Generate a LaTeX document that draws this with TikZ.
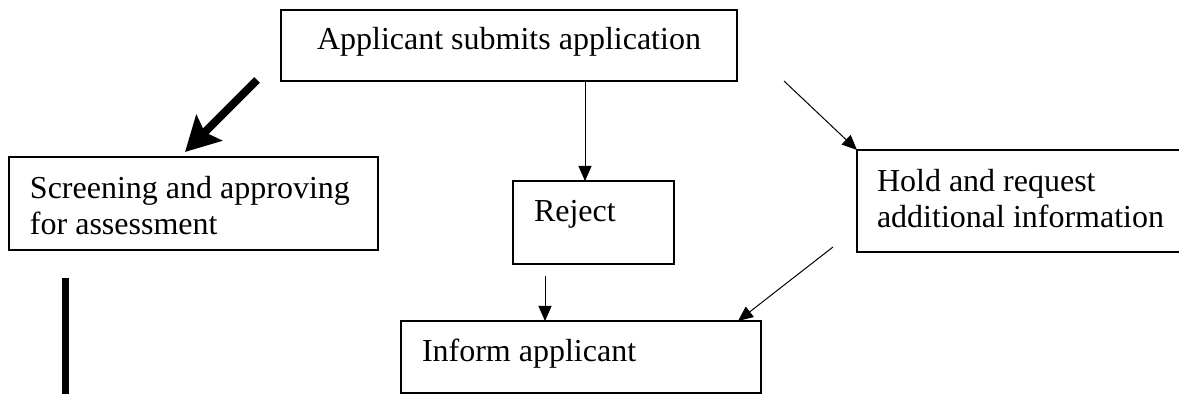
\documentclass[tikz,border=0pt]{standalone}
\usepackage{fontspec}
\setmainfont{Liberation Serif}
\usetikzlibrary{arrows.meta}
\usetikzlibrary{positioning}

\begin{document}
\begin{tikzpicture}[%
x={(0.5pt,0cm)},
y={(0cm,-0.5pt)},
kasten/.style={draw=black,line width=0.6pt,inner sep=0pt,outer sep=0pt,anchor=north west},
txt/.style={inner sep=0pt,outer sep=0pt,align=left,font=\fontsize{16}{18}\selectfont},
pfeil/.style={-{Triangle[length=7.5pt,width=6.5pt]},line width=0.5pt},
dick/.style={-{Stealth[length=17pt,width=18pt,inset=3pt]},line width=4pt},
balken/.style={line width=3.5pt},
]

\clip (0,0) rectangle (1179,394);

%Kaesten
\node[kasten,minimum width=228pt,minimum height=35.5pt](submit) at (281,10){};
\node[kasten,minimum width=184.5pt,minimum height=46.5pt](screen) at (9,157){};
\node[kasten,minimum width=80.5pt,minimum height=41.5pt](reject) at (513,181){};
\node[kasten,minimum width=180pt,minimum height=36pt](inform) at (401,321){};
\node[kasten,minimum width=166.5pt,minimum height=51pt](hold) at (857,150){};

%Texte
\node[txt,anchor=base](submitT) at ([shift={(0,40)}]submit.north){Applicant submits application};
\node[txt,anchor=north west](screenT) at ([shift={(21,19)}]screen.north west){Screening and approving\\for assessment};
\node[txt,anchor=base west](rejectT) at ([shift={(21,41)}]reject.north west){Reject};
\node[txt,anchor=base west](informT) at ([shift={(21,41)}]inform.north west){Inform applicant};
\node[txt,anchor=north west](holdT) at ([shift={(20,19)}]hold.north west){Hold and request\\additional information};

%Pfeile
\coordinate (dickA) at (257,80);
\coordinate (dickB) at (185,152);
\coordinate (rejIn) at (585,0);
\coordinate (infA) at (545,276);
\coordinate (infB) at (738,0);
\coordinate (holdA) at (833,247);
\coordinate (holdB) at (784,81);
\coordinate (balkenA) at (65,278);
\coordinate (balkenB) at (65,394);

\draw[dick] (dickA) -- (dickB);
\draw[pfeil] (submit.south -| rejIn) -- (rejIn |- reject.north);
\draw[pfeil] (holdB) -- (hold.north west);
\draw[pfeil] (infA) -- (infA |- inform.north);
\draw[pfeil] (holdA) -- (infB |- inform.north);
\draw[balken] (balkenA) -- (balkenB);

\end{tikzpicture}
\end{document}
